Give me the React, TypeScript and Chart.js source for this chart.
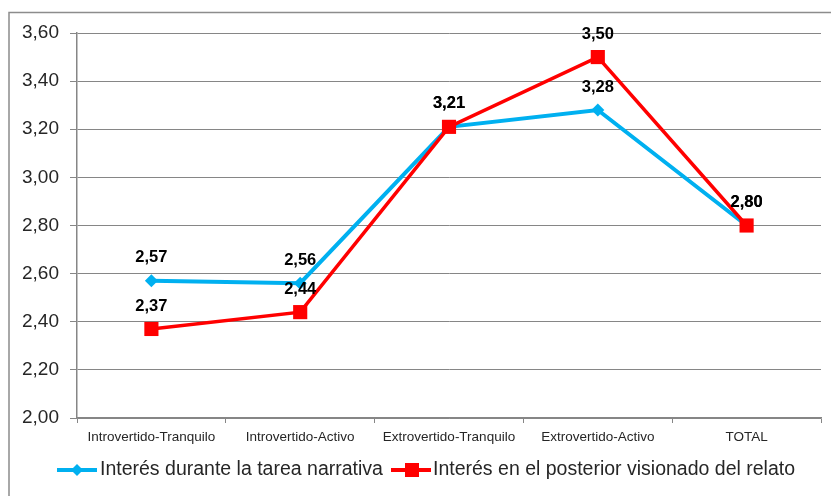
import { useEffect, useRef } from 'react';
import { Chart, registerables } from 'chart.js';

Chart.register(...registerables);

const categories = [
  'Introvertido-Tranquilo',
  'Introvertido-Activo',
  'Extrovertido-Tranquilo',
  'Extrovertido-Activo',
  'TOTAL',
];
const seriesNames = [
  'Interés durante la tarea narrativa',
  'Interés en el posterior visionado del relato',
];
const duranteValues = [2.57, 2.56, 3.21, 3.28, 2.8];
const posteriorValues = [2.37, 2.44, 3.21, 3.5, 2.8];
const yTicks = [2.0, 2.2, 2.4, 2.6, 2.8, 3.0, 3.2, 3.4, 3.6];

const BLUE = '#00B0F0';
const RED = '#FF0000';
const GRID = '#868686';
const TEXT = '#262626';

const fmt = (v: number) => v.toFixed(2).replace('.', ',');

const framePlugin = {
  id: 'frame',
  beforeDraw(chart: any) {
    const ctx = chart.ctx;
    ctx.save();
    ctx.fillStyle = '#ffffff';
    ctx.fillRect(0, 0, chart.width, chart.height);
    ctx.strokeStyle = '#8c8c8c';
    ctx.lineWidth = 1.5;
    ctx.beginPath();
    ctx.moveTo(9, chart.height);
    ctx.lineTo(9, 12.5);
    ctx.lineTo(chart.width, 12.5);
    ctx.stroke();
    ctx.restore();
  },
};

const labelPlugin = {
  id: 'valueLabels',
  afterDatasetsDraw(chart: any) {
    const ctx = chart.ctx;
    ctx.save();
    ctx.font = 'bold 16.5px "Liberation Sans", Arial, sans-serif';
    ctx.fillStyle = '#000000';
    ctx.textAlign = 'center';
    ctx.textBaseline = 'middle';
    chart.data.datasets.forEach((ds: any, i: number) => {
      const meta = chart.getDatasetMeta(i);
      meta.data.forEach((pt: any, j: number) => {
        ctx.fillText(fmt(ds.data[j]), pt.x, pt.y - 23);
      });
    });
    ctx.restore();
  },
};

const legendPlugin = {
  id: 'customLegend',
  afterDraw(chart: any) {
    const ctx = chart.ctx;
    const y = 470;
    ctx.save();
    ctx.font = '19.5px "Liberation Sans", Arial, sans-serif';
    ctx.textBaseline = 'middle';
    ctx.textAlign = 'left';
    // blue entry
    ctx.strokeStyle = BLUE;
    ctx.lineWidth = 4;
    ctx.beginPath();
    ctx.moveTo(57, y);
    ctx.lineTo(97, y);
    ctx.stroke();
    ctx.fillStyle = BLUE;
    ctx.beginPath();
    ctx.moveTo(77 - 6, y);
    ctx.lineTo(77, y - 6);
    ctx.lineTo(77 + 6, y);
    ctx.lineTo(77, y + 6);
    ctx.closePath();
    ctx.fill();
    ctx.fillStyle = TEXT;
    ctx.fillText(seriesNames[0], 100, y);
    // red entry
    ctx.strokeStyle = RED;
    ctx.lineWidth = 4;
    ctx.beginPath();
    ctx.moveTo(391, y);
    ctx.lineTo(431, y);
    ctx.stroke();
    ctx.fillStyle = RED;
    ctx.fillRect(412 - 7, y - 7, 14, 14);
    ctx.fillStyle = TEXT;
    ctx.fillText(seriesNames[1], 433, y);
    ctx.restore();
  },
};

export default function App() {
  const canvasRef = useRef<HTMLCanvasElement | null>(null);

  useEffect(() => {
    if (!canvasRef.current) return;
    const chart = new Chart(canvasRef.current, {
      type: 'line',
      data: {
        labels: categories,
        datasets: [
          {
            label: seriesNames[0],
            data: duranteValues,
            borderColor: BLUE,
            backgroundColor: BLUE,
            borderWidth: 4,
            pointStyle: 'rectRot',
            pointRadius: 6.5,
            pointHoverRadius: 6.5,
            pointBorderWidth: 0,
            tension: 0,
            order: 1,
          },
          {
            label: seriesNames[1],
            data: posteriorValues,
            borderColor: RED,
            backgroundColor: RED,
            borderWidth: 3.5,
            pointStyle: 'rect',
            pointRadius: 10,
            pointHoverRadius: 10,
            pointBorderWidth: 0,
            tension: 0,
            order: 0,
          },
        ],
      },
      options: {
        responsive: false,
        animation: false,
        layout: { padding: { left: 0, right: 8, top: 33, bottom: 48 } },
        plugins: {
          legend: { display: false },
          tooltip: { enabled: false },
        },
        scales: {
          x: {
            type: 'category',
            offset: true,
            grid: {
              offset: true,
              drawOnChartArea: false,
              drawTicks: true,
              tickLength: 5,
              color: GRID,
            },
            border: { color: GRID, width: 1.5 },
            ticks: {
              font: { family: '"Liberation Sans", Arial, sans-serif', size: 13.5 },
              color: TEXT,
              padding: 6,
              maxRotation: 0,
              autoSkip: false,
            },
            afterFit: (s: any) => {
              s.height = 30;
            },
          },
          y: {
            min: 2,
            max: 3.6,
            afterBuildTicks: (s: any) => {
              s.ticks = yTicks.map((v) => ({ value: v }));
            },
            grid: { color: GRID, lineWidth: 1, tickLength: 7 },
            border: { color: GRID, width: 1.5 },
            ticks: {
              font: { family: '"Liberation Sans", Arial, sans-serif', size: 19 },
              color: TEXT,
              padding: 11,
              callback: (v: any) => fmt(Number(v)),
            },
            afterFit: (s: any) => {
              s.width = 77;
            },
          },
        },
      },
      plugins: [framePlugin, labelPlugin, legendPlugin],
    });
    return () => chart.destroy();
  }, []);

  return (
    <div style={{ position: 'absolute', left: 0, top: 0, width: 831, height: 496 }}>
      <canvas ref={canvasRef} width={831} height={496} />
    </div>
  );
}
